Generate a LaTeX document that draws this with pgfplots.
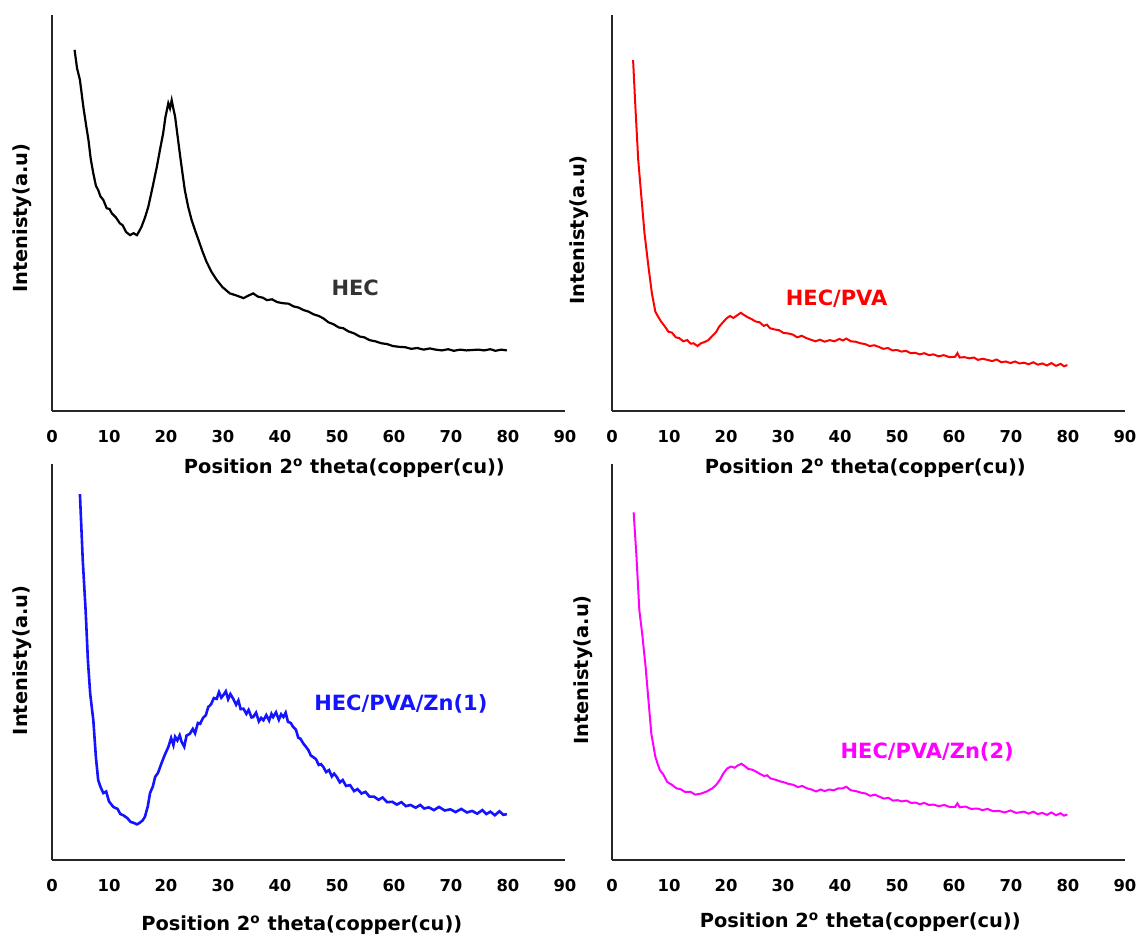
\documentclass[border=0pt]{standalone}
\usepackage{pgfplots}
\pgfplotsset{compat=1.18}
\usepackage{fontspec}
\setmainfont{DejaVu Sans}

\definecolor{xblue}{RGB}{20,20,255}
\definecolor{xmag}{RGB}{255,0,255}
\definecolor{xred}{RGB}{255,0,0}

\pgfplotsset{
  xrdpanel/.style={
    scale only axis,
    width=256.5pt, height=198pt,
    anchor=south west,
    xmin=0, xmax=90, ymin=0, ymax=100,
    axis x line=bottom, axis y line=left,
    axis line style={-, line width=0.9pt, black!85},
    xtick={0,10,...,90}, ytick=\empty,
    major tick length=0pt,
    clip=false,
    /pgf/number format/assume math mode=true,
    xticklabel style={font=\bfseries\fontsize{8.2}{9}\selectfont, yshift=-6pt},
    label style={font=\bfseries\fontsize{9.7}{11}\selectfont},
    xlabel={Position 2\textsuperscript{o} theta(copper(cu))},
    ylabel={Intenisty(a.u)},
  },
}

\begin{document}
\begin{tikzpicture}
\path[use as bounding box] (0pt,0pt) rectangle (568.5pt,469pt);

% top left: HEC
\begin{axis}[xrdpanel, at={(26pt,263.5pt)},
  xlabel style={at={(axis description cs:0.57,0)}, anchor=center, yshift=-28.5pt},
  ylabel style={at={(axis description cs:0,0.487)}, anchor=center, yshift=15pt}]
\addplot[black, line width=1.1pt] coordinates {
(3.96,91.2) (4.4,86.5) (4.9,83.6) (5.5,76.8) (6.0,72.0) (6.4,68.4) (6.8,63.6) (7.25,60.0)
(7.7,56.9) (8.1,55.8) (8.5,54.2) (9.0,53.3) (9.6,51.2) (10.1,51.0) (10.5,49.9) (11.2,48.9)
(11.9,47.4) (12.4,46.9) (13.0,45.2) (13.7,44.4) (14.3,44.9) (14.9,44.4) (15.3,45.4)
(15.7,46.5) (16.3,48.8) (16.9,51.6) (17.6,56.2) (18.4,61.7) (19.0,66.4) (19.5,70.1)
(19.9,74.2) (20.4,77.7) (20.7,76.4) (21.0,78.5) (21.3,76.3) (21.6,74.3) (22.0,69.8)
(22.5,64.2) (23.0,58.9) (23.3,55.8) (23.9,51.5) (24.5,48.2) (25.1,45.6) (25.7,43.2)
(26.4,40.3) (27.1,37.7) (28.0,35.1) (28.9,33.1) (29.9,31.3) (31.2,29.7) (32.3,29.2)
(33.6,28.5) (34.4,29.1) (35.3,29.7) (36.1,28.9) (37.0,28.6) (37.7,28.0) (38.6,28.2)
(39.5,27.5) (40.6,27.2) (41.5,27.1) (42.4,26.4) (43.3,26.1) (44.1,25.5) (45.0,25.1)
(45.9,24.4) (46.8,24.0) (47.6,23.4) (48.5,22.4) (49.4,21.9) (50.3,21.1) (51.1,20.9)
(52.0,20.1) (53.0,19.6) (54.0,18.8) (54.8,18.6) (55.7,17.9) (56.7,17.6) (57.8,17.1)
(58.8,16.9) (59.8,16.4) (60.9,16.2) (62.0,16.1) (63.0,15.7) (64.1,15.9) (65.2,15.5)
(66.3,15.8) (67.3,15.5) (68.4,15.3) (69.5,15.6) (70.5,15.2) (71.6,15.5) (72.7,15.3)
(73.7,15.4) (74.8,15.5) (75.8,15.3) (76.9,15.6) (77.8,15.2) (78.8,15.5) (79.8,15.3)
};
\node[font=\bfseries\fontsize{10.5}{12}\selectfont, text=black!80] at (axis cs:53.2,31.1) {HEC};
\end{axis}

% top right: HEC/PVA
\begin{axis}[xrdpanel, at={(306pt,263.5pt)},
  xlabel style={at={(axis description cs:0.494,0)}, anchor=center, yshift=-28.5pt},
  ylabel style={at={(axis description cs:0,0.457)}, anchor=center, yshift=16.5pt}]
\addplot[xred, line width=1pt] coordinates {
(3.7,88.6) (4.1,76.9) (4.6,63.4) (5.2,53.3) (5.7,44.9) (6.4,36.4) (7.0,29.7) (7.6,25.1)
(8.1,23.8) (8.6,22.6) (9.2,21.5) (9.9,20.0) (10.5,19.8) (11.2,18.6) (11.8,18.4) (12.5,17.6)
(13.2,17.9) (13.8,17.0) (14.3,17.1) (15.0,16.4) (15.6,17.1) (16.2,17.4) (16.9,17.9)
(17.5,18.8) (18.2,19.8) (18.8,21.3) (19.4,22.3) (20.1,23.4) (20.7,24.0) (21.3,23.5)
(22.0,24.2) (22.6,24.8) (23.2,24.2) (23.8,23.7) (24.5,23.2) (25.2,22.6) (25.9,22.4)
(26.6,21.5) (27.2,21.8) (27.7,20.9) (28.5,20.6) (29.3,20.4) (30.1,19.7) (30.9,19.6)
(31.7,19.3) (32.5,18.6) (33.3,19.0) (34.1,18.4) (34.9,18.0) (35.7,17.6) (36.5,18.0)
(37.3,17.5) (38.2,17.9) (39.0,17.6) (39.9,18.2) (40.5,17.8) (41.1,18.3) (41.9,17.6)
(42.7,17.5) (43.6,17.1) (44.4,16.9) (45.2,16.4) (46.0,16.6) (46.8,16.2) (47.6,15.7)
(48.4,15.9) (49.2,15.3) (50.0,15.4) (50.8,15.0) (51.6,15.2) (52.4,14.6) (53.2,14.7)
(54.0,14.3) (54.8,14.6) (55.6,14.1) (56.4,14.3) (57.3,13.8) (58.2,14.1) (59.2,13.6)
(60.2,13.7) (60.6,14.6) (61.0,13.5) (61.8,13.6) (62.7,13.3) (63.5,13.5) (64.2,12.9)
(65.0,13.2) (65.9,12.9) (66.7,12.6) (67.5,13.0) (68.3,12.3) (69.1,12.5) (69.9,12.1)
(70.7,12.5) (71.5,12.0) (72.3,12.2) (73.1,11.8) (73.9,12.3) (74.7,11.7) (75.5,12.0)
(76.3,11.5) (77.1,12.1) (77.9,11.4) (78.7,11.9) (79.3,11.3) (79.9,11.6)
};
\node[font=\bfseries\fontsize{10.5}{12}\selectfont, text=xred] at (axis cs:39.4,28.3) {HEC/PVA};
\end{axis}

% bottom left: HEC/PVA/Zn(1)
\begin{axis}[xrdpanel, at={(26pt,39pt)},
  xlabel style={at={(axis description cs:0.487,0)}, anchor=center, yshift=-32.5pt},
  ylabel style={at={(axis description cs:0,0.504)}, anchor=center, yshift=15pt}]
\addplot[xblue, line width=1.3pt] coordinates {
(4.9,92.4) (5.4,75.6) (5.9,63.0) (6.3,50.4) (6.7,42.0) (7.25,35.3) (7.7,26.0) (8.1,20.2)
(8.5,18.5) (9.0,16.9) (9.5,17.3) (10.0,14.8) (10.75,13.4) (11.5,12.9) (12.0,11.6)
(12.5,11.3) (13.2,10.6) (13.8,9.6) (14.3,9.4) (14.9,9.0) (15.4,9.4) (15.9,10.0)
(16.3,10.9) (16.8,13.5) (17.2,16.9) (17.7,18.6) (18.1,21.0) (18.6,22.0) (19.2,24.4)
(19.8,26.6) (20.4,28.5) (20.9,30.8) (21.3,29.0) (21.6,31.1) (22.0,30.2) (22.4,31.5)
(22.75,29.8) (23.2,28.6) (23.6,31.4) (24.2,31.9) (24.7,33.1) (25.1,32.0) (25.6,34.6)
(26.0,34.4) (26.5,35.9) (27.0,36.6) (27.4,38.6) (27.9,39.3) (28.4,40.9) (28.9,40.7)
(29.3,42.4) (29.7,41.0) (30.05,41.6) (30.5,42.6) (30.9,40.6) (31.3,41.9) (31.8,40.7)
(32.3,39.2) (32.7,40.3) (33.1,38.1) (33.6,38.2) (34.1,36.9) (34.5,37.9) (35.0,36.0)
(35.3,36.1) (35.8,37.2) (36.3,35.0) (36.7,35.9) (37.1,35.3) (37.6,36.6) (38.1,35.2)
(38.5,36.9) (38.8,36.1) (39.3,37.3) (39.8,35.4) (40.2,36.8) (40.6,36.1) (41.0,37.2)
(41.4,34.9) (41.9,34.6) (42.3,33.6) (42.8,32.9) (43.2,30.9) (43.6,30.6) (44.1,29.4)
(44.6,28.5) (45.0,27.7) (45.4,26.4) (45.8,26.0) (46.3,25.5) (46.8,24.0) (47.2,24.2)
(47.6,23.5) (48.1,22.2) (48.6,22.7) (49.1,21.1) (49.5,21.8) (49.95,21.0) (50.5,19.6)
(51.0,20.2) (51.6,18.7) (52.3,18.9) (53.0,17.4) (53.6,17.9) (54.3,16.8) (55.0,17.2)
(55.7,16.0) (56.5,16.0) (57.3,15.2) (58.0,15.8) (58.8,14.6) (59.7,14.7) (60.5,14.0)
(61.3,14.6) (62.1,13.6) (62.9,13.9) (63.8,13.2) (64.6,13.9) (65.3,13.0) (66.1,13.3)
(67.0,12.6) (67.9,13.4) (68.9,12.5) (69.9,12.8) (70.8,12.1) (71.8,12.9) (72.8,12.0)
(73.7,12.4) (74.6,11.7) (75.5,12.6) (76.2,11.6) (76.9,12.2) (77.7,11.3) (78.5,12.3)
(79.2,11.4) (79.8,11.6)
};
\node[font=\bfseries\fontsize{10.5}{12}\selectfont, text=xblue] at (axis cs:61.2,39.5) {HEC/PVA/Zn(1)};
\end{axis}

% bottom right: HEC/PVA/Zn(2)
\begin{axis}[xrdpanel, at={(306pt,39pt)},
  xlabel style={at={(axis description cs:0.484,0)}, anchor=center, yshift=-31pt},
  ylabel style={at={(axis description cs:0,0.48)}, anchor=center, yshift=14.5pt}]
\addplot[xmag, line width=1pt] coordinates {
(3.8,87.8) (4.3,76.5) (4.8,63.0) (5.3,57.1) (5.9,48.7) (6.4,40.3) (6.9,31.9) (7.6,26.1)
(8.0,24.3) (8.4,22.7) (9.0,21.6) (9.7,19.7) (10.5,19.0) (11.3,18.1) (12.0,17.9)
(12.8,17.2) (13.8,17.2) (14.6,16.5) (15.7,16.8) (16.6,17.3) (17.6,18.1) (18.3,19.0)
(18.9,20.2) (19.6,22.0) (20.2,23.1) (20.9,23.6) (21.5,23.3) (22.1,23.9) (22.7,24.3)
(23.3,23.7) (23.9,23.0) (24.6,22.8) (25.3,22.3) (26.0,21.7) (26.7,21.2) (27.2,21.4)
(27.8,20.6) (28.6,20.3) (29.4,19.9) (30.2,19.6) (31.0,19.2) (31.8,19.0) (32.6,18.4)
(33.4,18.7) (34.2,18.1) (35.0,17.8) (35.8,17.3) (36.6,17.8) (37.3,17.4) (38.1,17.8)
(38.9,17.6) (39.7,18.1) (40.5,18.1) (41.1,18.5) (41.9,17.6) (42.8,17.4) (43.7,17.0)
(44.5,16.8) (45.3,16.2) (46.1,16.5) (46.9,16.0) (47.7,15.5) (48.5,15.7) (49.3,15.0)
(50.1,15.1) (50.9,14.8) (51.7,15.0) (52.5,14.4) (53.2,14.5) (54.0,14.1) (54.8,14.4)
(55.6,13.9) (56.4,14.0) (57.3,13.6) (58.3,13.9) (59.2,13.4) (60.2,13.4) (60.6,14.3)
(61.0,13.3) (62.0,13.5) (63.0,12.9) (64.1,13.0) (65.0,12.6) (65.9,12.9) (66.9,12.3)
(67.9,12.4) (68.9,12.0) (69.9,12.5) (70.9,11.9) (72.3,12.2) (73.1,11.7) (73.9,12.2)
(74.7,11.6) (75.5,11.9) (76.3,11.4) (77.1,12.0) (77.9,11.3) (78.7,11.8) (79.3,11.2)
(79.9,11.5)
};
\node[font=\bfseries\fontsize{10.5}{12}\selectfont, text=xmag] at (axis cs:55.3,27.2) {HEC/PVA/Zn(2)};
\end{axis}
\end{tikzpicture}
\end{document}
